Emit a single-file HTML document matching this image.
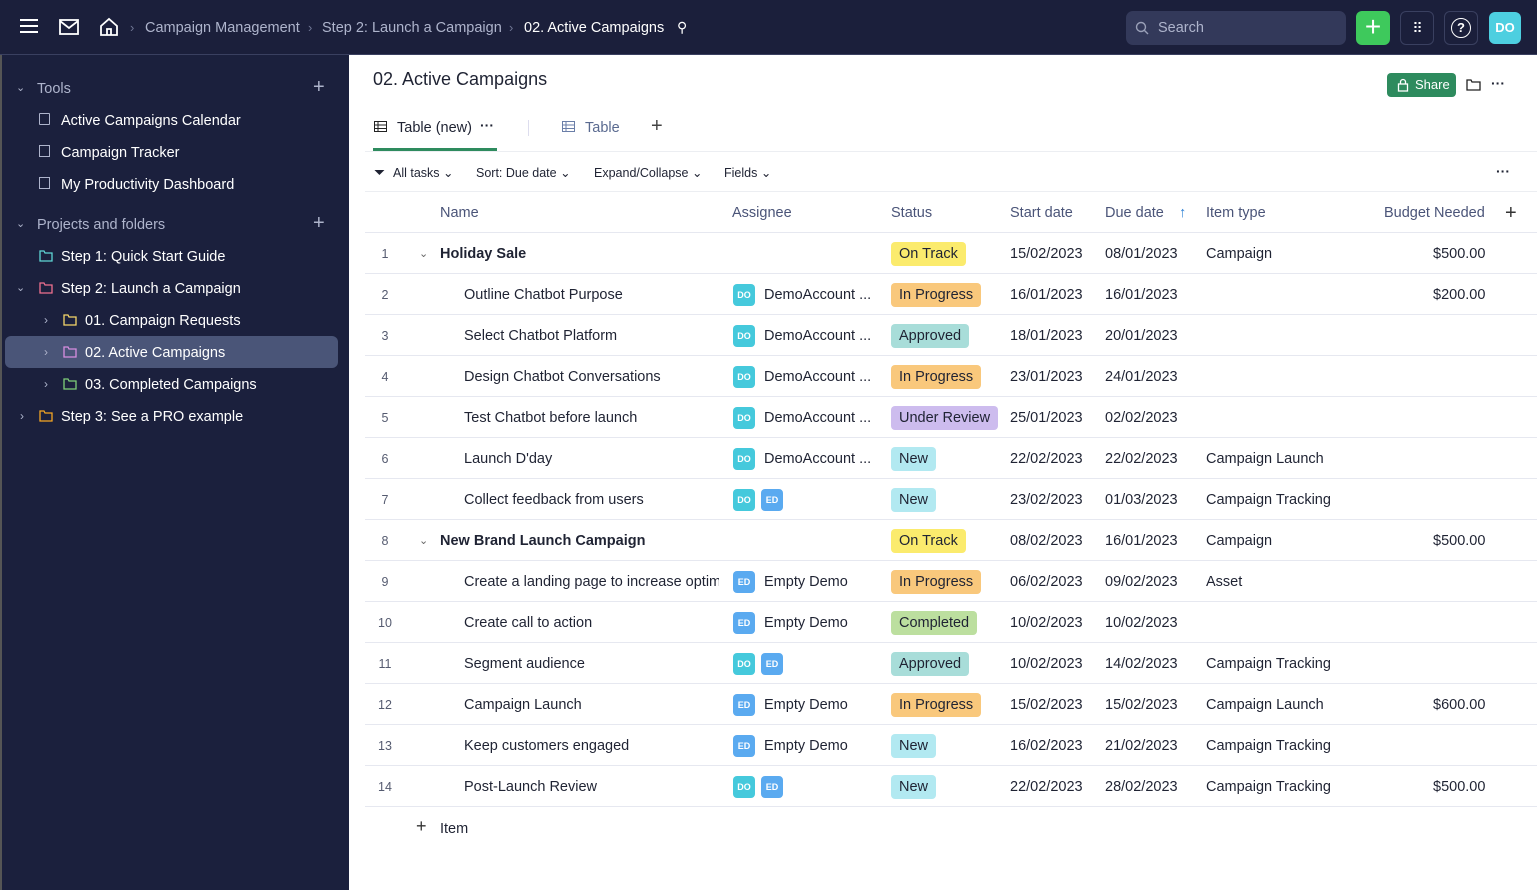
<!DOCTYPE html>
<html><head><meta charset="utf-8"><style>
*{box-sizing:border-box;margin:0;padding:0}
body{width:1537px;height:890px;overflow:hidden;font-family:"Liberation Sans",sans-serif;background:#fff;position:relative;color:#1f2333}
.a{position:absolute;white-space:nowrap}
#top{position:absolute;left:0;top:0;width:1537px;height:55px;background:#1b1f3b;border-bottom:1px solid #3a4060}
#side{position:absolute;left:0;top:55px;width:349px;height:835px;background:#1b203d;border-left:2px solid #555}
.sb{color:#fff;font-size:14.5px}
.sg{color:#aeb4cc;font-size:14.5px}
.row{position:absolute;left:365px;width:1172px;height:41px;border-bottom:1px solid #e6e8f0;font-size:14.5px;line-height:42px}
.row span{position:absolute;white-space:nowrap}
.n{left:0;width:40px;text-align:center;font-size:12.5px;color:#555b70}
.badge{display:inline-block;height:24px;line-height:24px;padding:0 8px;border-radius:4px;top:9px;font-size:14.5px}
.av{width:22px;height:22px;border-radius:4px;top:10px;color:#fff;font-size:9px;font-weight:bold;line-height:22px;text-align:center}
.do{background:#45c9dc}.ed{background:#5aaaf0}
.ot{background:#fbeb6d}.ip{background:#f9c87c}.ap{background:#a8ddd9}.ur{background:#cdbcee}.nw{background:#b2e9f1}.cp{background:#bcdf9f}
.bg{left:1068px !important}
</style></head><body>
<div id="top">
 <div class="a" style="left:20px;top:19px;width:18px;height:2px;background:#fff;box-shadow:0 6px 0 #fff,0 12px 0 #fff"></div>
 <svg class="a" style="left:59px;top:19px" width="20" height="16"><rect x="1" y="1" width="18" height="14" fill="none" stroke="#fff" stroke-width="1.8"/><path d="M1 2 L10 9 L19 2" fill="none" stroke="#fff" stroke-width="1.8"/></svg>
 <svg class="a" style="left:99px;top:17px" width="20" height="20"><path d="M2 9 L10 2 L18 9 V18 H2 Z M8 18 V12 H12 V18" fill="none" stroke="#fff" stroke-width="1.8"/></svg>
 <div class="a" style="left:130px;top:20px;color:#6f7694;font-size:13px">›</div>
 <div class="a" style="left:145px;top:20px;color:#aeb4cc;font-size:14.5px">Campaign Management</div>
 <div class="a" style="left:308px;top:20px;color:#6f7694;font-size:13px">›</div>
 <div class="a" style="left:322px;top:20px;color:#aeb4cc;font-size:14.5px">Step 2: Launch a Campaign</div>
 <div class="a" style="left:509px;top:20px;color:#6f7694;font-size:13px">›</div>
 <div class="a" style="left:524px;top:20px;color:#fff;font-size:14.5px">02. Active Campaigns</div>
 <div class="a" style="left:677px;top:19px;color:#fff;font-size:14px">⚲</div>
 <div class="a" style="left:1126px;top:11px;width:220px;height:34px;background:#33395a;border-radius:7px"></div>
 <svg class="a" style="left:1135px;top:21px" width="14" height="14"><circle cx="6" cy="6" r="4.5" fill="none" stroke="#9aa0b8" stroke-width="1.4"/><path d="M9.5 9.5 L13 13" stroke="#9aa0b8" stroke-width="1.4"/></svg>
 <div class="a" style="left:1158px;top:20px;color:#aeb4cc;font-size:14.5px">Search</div>
 <div class="a" style="left:1356px;top:11px;width:34px;height:34px;background:#3ec95c;border-radius:6px;color:#fff;font-size:28px;line-height:32px;text-align:center">+</div>
 <div class="a" style="left:1400px;top:11px;width:34px;height:34px;border:1px solid #3a4060;border-radius:6px;color:#fff;font-size:14px;line-height:32px;text-align:center;letter-spacing:-1px">⠿</div>
 <div class="a" style="left:1444px;top:11px;width:34px;height:34px;border:1px solid #3a4060;border-radius:6px"></div>
 <div class="a" style="left:1451px;top:18px;width:20px;height:20px;border:1.6px solid #fff;border-radius:50%;color:#fff;font-size:13px;line-height:17px;text-align:center;font-weight:bold">?</div>
 <div class="a" style="left:1489px;top:12px;width:32px;height:32px;background:#4dcfe0;border-radius:6px;color:#fff;font-size:13px;font-weight:bold;line-height:32px;text-align:center">DO</div>
</div>
<div id="side">
 <div class="a sg" style="left:14px;top:26px;font-size:11px">⌄</div>
 <div class="a sg" style="left:35px;top:26px">Tools</div>
 <div class="a sg" style="left:311px;top:21px;font-size:20px">+</div>
 <div class="a" style="left:37px;top:58px;width:11px;height:12px;border:1.3px solid #aeb4cc;border-radius:1px"></div>
 <div class="a sb" style="left:59px;top:58px">Active Campaigns Calendar</div>
 <div class="a" style="left:37px;top:90px;width:11px;height:12px;border:1.3px solid #aeb4cc"></div>
 <div class="a sb" style="left:59px;top:90px">Campaign Tracker</div>
 <div class="a" style="left:37px;top:122px;width:11px;height:12px;border:1.3px solid #aeb4cc"></div>
 <div class="a sb" style="left:59px;top:122px">My Productivity Dashboard</div>
 <div class="a sg" style="left:14px;top:162px;font-size:11px">⌄</div>
 <div class="a sg" style="left:35px;top:162px">Projects and folders</div>
 <div class="a sg" style="left:311px;top:157px;font-size:20px">+</div>
 <div class="a" style="left:3px;top:281px;width:333px;height:32px;background:#4a5578;border-radius:6px"></div>
 <svg class="a" style="left:37px;top:195px" width="14" height="12"><path d="M1 1 H5 L6 3 H13 V11 H1 Z" fill="none" stroke="#5fd6d6" stroke-width="1.3"/></svg>
 <div class="a sb" style="left:59px;top:194px">Step 1: Quick Start Guide</div>
 <div class="a sg" style="left:14px;top:226px;font-size:11px">⌄</div>
 <svg class="a" style="left:37px;top:227px" width="14" height="12"><path d="M1 1 H5 L6 3 H13 V11 H1 Z" fill="none" stroke="#f07090" stroke-width="1.3"/></svg>
 <div class="a sb" style="left:59px;top:226px">Step 2: Launch a Campaign</div>
 <div class="a sg" style="left:42px;top:258px;font-size:12px">›</div>
 <svg class="a" style="left:61px;top:259px" width="14" height="12"><path d="M1 1 H5 L6 3 H13 V11 H1 Z" fill="none" stroke="#f5d66a" stroke-width="1.3"/></svg>
 <div class="a sb" style="left:83px;top:258px">01. Campaign Requests</div>
 <div class="a sg" style="left:42px;top:290px;font-size:12px">›</div>
 <svg class="a" style="left:61px;top:291px" width="14" height="12"><path d="M1 1 H5 L6 3 H13 V11 H1 Z" fill="none" stroke="#d88ee0" stroke-width="1.3"/></svg>
 <div class="a sb" style="left:83px;top:290px">02. Active Campaigns</div>
 <div class="a sg" style="left:42px;top:322px;font-size:12px">›</div>
 <svg class="a" style="left:61px;top:323px" width="14" height="12"><path d="M1 1 H5 L6 3 H13 V11 H1 Z" fill="none" stroke="#7fcf7a" stroke-width="1.3"/></svg>
 <div class="a sb" style="left:83px;top:322px">03. Completed Campaigns</div>
 <div class="a sg" style="left:18px;top:354px;font-size:12px">›</div>
 <svg class="a" style="left:37px;top:355px" width="14" height="12"><path d="M1 1 H5 L6 3 H13 V11 H1 Z" fill="none" stroke="#f5a623" stroke-width="1.3"/></svg>
 <div class="a sb" style="left:59px;top:354px">Step 3: See a PRO example</div>
</div>

<div class="a" style="left:373px;top:69px;font-size:18px;color:#1f2333">02. Active Campaigns</div>
<div class="a" style="left:1387px;top:73px;width:69px;height:24px;background:#2e8b5e;border-radius:4px;color:#fff;font-size:13px;line-height:24px;padding-left:28px">Share</div>
<svg class="a" style="left:1397px;top:78px" width="12" height="14"><rect x="1.5" y="6" width="9" height="7" fill="none" stroke="#fff" stroke-width="1.3"/><path d="M3.5 6 V4 a2.5 2.5 0 0 1 5 0 V6" fill="none" stroke="#fff" stroke-width="1.3"/></svg>
<svg class="a" style="left:1466px;top:79px" width="15" height="12"><path d="M1 1 H5 L6 3 H14 V11 H1 Z" fill="none" stroke="#222" stroke-width="1.3"/></svg>
<div class="a" style="left:1491px;top:75px;font-size:14px;font-weight:bold">···</div>

<svg class="a" style="left:374px;top:121px" width="13" height="11"><rect x="0.5" y="0.5" width="12" height="10" fill="none" stroke="#222"/><path d="M0 4 H13 M0 7.5 H13 M4 0 V11" stroke="#222"/></svg>
<div class="a" style="left:397px;top:120px;font-size:14.5px">Table (new)</div>
<div class="a" style="left:480px;top:117px;font-size:14px;font-weight:bold">···</div>
<div class="a" style="left:373px;top:148px;width:124px;height:3px;background:#2e8b5e"></div>
<div class="a" style="left:528px;top:120px;width:1px;height:16px;background:#dde"></div>
<svg class="a" style="left:562px;top:121px" width="13" height="11"><rect x="0.5" y="0.5" width="12" height="10" fill="none" stroke="#6a7ea8"/><path d="M0 4 H13 M0 7.5 H13 M4 0 V11" stroke="#6a7ea8"/></svg>
<div class="a" style="left:585px;top:120px;font-size:14.5px;color:#5a6a90">Table</div>
<div class="a" style="left:651px;top:115px;font-size:20px;color:#444">+</div>
<div class="a" style="left:365px;top:151px;width:1172px;height:1px;background:#eceef2"></div>

<div class="a" style="left:374px;top:164px;font-size:14px">⏷</div>
<div class="a" style="left:393px;top:165px;font-size:12.5px">All tasks ⌄</div>
<div class="a" style="left:476px;top:165px;font-size:12.5px">Sort: Due date ⌄</div>
<div class="a" style="left:594px;top:165px;font-size:12.5px">Expand/Collapse ⌄</div>
<div class="a" style="left:724px;top:165px;font-size:12.5px">Fields ⌄</div>
<div class="a" style="left:1496px;top:163px;font-size:14px;font-weight:bold">···</div>
<div class="a" style="left:365px;top:191px;width:1172px;height:1px;background:#eceef2"></div>

<div class="row" style="top:192px;color:#4a5478">
 <span style="left:75px">Name</span><span style="left:367px">Assignee</span><span style="left:526px">Status</span><span style="left:645px">Start date</span><span style="left:740px">Due date</span><span style="left:814px;color:#2a7fd4">↑</span><span style="left:841px">Item type</span><span style="left:1019px">Budget Needed</span><span style="left:1140px;font-size:20px;color:#333">+</span>
</div>

<div class="row" style="top:233px"><span class="n">1</span><span style="left:54px;font-size:11px;color:#666">⌄</span><span style="left:75px;font-weight:bold">Holiday Sale</span><span class="badge ot" style="left:526px">On Track</span><span style="left:645px">15/02/2023</span><span style="left:740px">08/01/2023</span><span style="left:841px">Campaign</span><span class="bg">$500.00</span></div>
<div class="row" style="top:274px"><span class="n">2</span><span style="left:99px">Outline Chatbot Purpose</span><span class="av do" style="left:368px">DO</span><span style="left:399px">DemoAccount ...</span><span class="badge ip" style="left:526px">In Progress</span><span style="left:645px">16/01/2023</span><span style="left:740px">16/01/2023</span><span class="bg">$200.00</span></div>
<div class="row" style="top:315px"><span class="n">3</span><span style="left:99px">Select Chatbot Platform</span><span class="av do" style="left:368px">DO</span><span style="left:399px">DemoAccount ...</span><span class="badge ap" style="left:526px">Approved</span><span style="left:645px">18/01/2023</span><span style="left:740px">20/01/2023</span></div>
<div class="row" style="top:356px"><span class="n">4</span><span style="left:99px">Design Chatbot Conversations</span><span class="av do" style="left:368px">DO</span><span style="left:399px">DemoAccount ...</span><span class="badge ip" style="left:526px">In Progress</span><span style="left:645px">23/01/2023</span><span style="left:740px">24/01/2023</span></div>
<div class="row" style="top:397px"><span class="n">5</span><span style="left:99px">Test Chatbot before launch</span><span class="av do" style="left:368px">DO</span><span style="left:399px">DemoAccount ...</span><span class="badge ur" style="left:526px">Under Review</span><span style="left:645px">25/01/2023</span><span style="left:740px">02/02/2023</span></div>
<div class="row" style="top:438px"><span class="n">6</span><span style="left:99px">Launch D'day</span><span class="av do" style="left:368px">DO</span><span style="left:399px">DemoAccount ...</span><span class="badge nw" style="left:526px">New</span><span style="left:645px">22/02/2023</span><span style="left:740px">22/02/2023</span><span style="left:841px">Campaign Launch</span></div>
<div class="row" style="top:479px"><span class="n">7</span><span style="left:99px">Collect feedback from users</span><span class="av do" style="left:368px">DO</span><span class="av ed" style="left:396px">ED</span><span class="badge nw" style="left:526px">New</span><span style="left:645px">23/02/2023</span><span style="left:740px">01/03/2023</span><span style="left:841px">Campaign Tracking</span></div>
<div class="row" style="top:520px"><span class="n">8</span><span style="left:54px;font-size:11px;color:#666">⌄</span><span style="left:75px;font-weight:bold">New Brand Launch Campaign</span><span class="badge ot" style="left:526px">On Track</span><span style="left:645px">08/02/2023</span><span style="left:740px">16/01/2023</span><span style="left:841px">Campaign</span><span class="bg">$500.00</span></div>
<div class="row" style="top:561px"><span class="n">9</span><span style="left:99px;width:255px;overflow:hidden">Create a landing page to increase optim</span><span class="av ed" style="left:368px">ED</span><span style="left:399px">Empty Demo</span><span class="badge ip" style="left:526px">In Progress</span><span style="left:645px">06/02/2023</span><span style="left:740px">09/02/2023</span><span style="left:841px">Asset</span></div>
<div class="row" style="top:602px"><span class="n">10</span><span style="left:99px">Create call to action</span><span class="av ed" style="left:368px">ED</span><span style="left:399px">Empty Demo</span><span class="badge cp" style="left:526px">Completed</span><span style="left:645px">10/02/2023</span><span style="left:740px">10/02/2023</span></div>
<div class="row" style="top:643px"><span class="n">11</span><span style="left:99px">Segment audience</span><span class="av do" style="left:368px">DO</span><span class="av ed" style="left:396px">ED</span><span class="badge ap" style="left:526px">Approved</span><span style="left:645px">10/02/2023</span><span style="left:740px">14/02/2023</span><span style="left:841px">Campaign Tracking</span></div>
<div class="row" style="top:684px"><span class="n">12</span><span style="left:99px">Campaign Launch</span><span class="av ed" style="left:368px">ED</span><span style="left:399px">Empty Demo</span><span class="badge ip" style="left:526px">In Progress</span><span style="left:645px">15/02/2023</span><span style="left:740px">15/02/2023</span><span style="left:841px">Campaign Launch</span><span class="bg">$600.00</span></div>
<div class="row" style="top:725px"><span class="n">13</span><span style="left:99px">Keep customers engaged</span><span class="av ed" style="left:368px">ED</span><span style="left:399px">Empty Demo</span><span class="badge nw" style="left:526px">New</span><span style="left:645px">16/02/2023</span><span style="left:740px">21/02/2023</span><span style="left:841px">Campaign Tracking</span></div>
<div class="row" style="top:766px"><span class="n">14</span><span style="left:99px">Post-Launch Review</span><span class="av do" style="left:368px">DO</span><span class="av ed" style="left:396px">ED</span><span class="badge nw" style="left:526px">New</span><span style="left:645px">22/02/2023</span><span style="left:740px">28/02/2023</span><span style="left:841px">Campaign Tracking</span><span class="bg">$500.00</span></div>
<div class="a" style="left:416px;top:816px;font-size:18px;color:#333">+</div>
<div class="a" style="left:440px;top:821px;font-size:14.5px">Item</div>
</body></html>
